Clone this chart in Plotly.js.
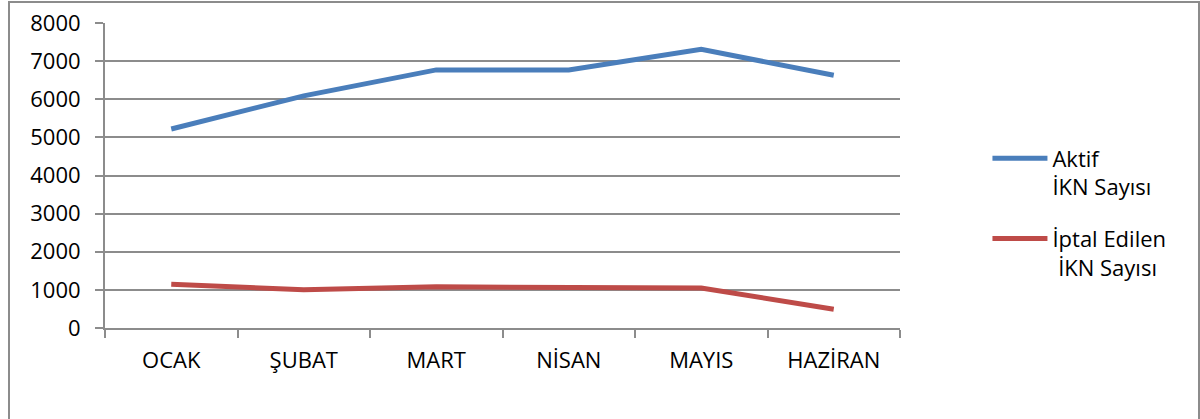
<!DOCTYPE html>
<html>
<head>
<meta charset="utf-8">
<script src="https://cdn.plot.ly/plotly-3.0.1.min.js"></script>
<style>
  html, body { margin: 0; padding: 0; background: #fff; overflow: hidden; }
  #chart { width: 1200px; height: 419px; position: absolute; left: 0; top: 0; }
  #frame { position: absolute; left: 8px; top: 1px; width: 1188px; height: 500px;
           border: 2px solid #8c8c8c; pointer-events: none; z-index: 5; }
</style>
</head>
<body>
<div id="chart"></div>
<div id="frame"></div>
<script>
const months = ["OCAK", "ŞUBAT", "MART", "NİSAN", "MAYIS", "HAZİRAN"];
const aktifIKN = [5220, 6090, 6770, 6770, 7310, 6630];
const iptalIKN = [1145, 1005, 1080, 1050, 1050, 490];
const seriesNames = ["Aktif<br>İKN Sayısı", "İptal Edilen<br>\u00a0İKN Sayısı"];
const yTicks = [0, 1000, 2000, 3000, 4000, 5000, 6000, 7000, 8000];

const font = "Open Sans, Noto Sans, sans-serif";
const gridGray = "#8c8c8c";

const traces = [
  { x: months, y: aktifIKN, name: seriesNames[0], legendgroup: "aktif", type: "scatter", mode: "lines",
    line: { color: "#4A7EBB", width: 5 } },
  { x: months, y: iptalIKN, name: seriesNames[1], legendgroup: "iptal", type: "scatter", mode: "lines",
    line: { color: "#BE4B48", width: 5 } }
];

const layout = {
  width: 1200, height: 419,
  margin: { l: 105, r: 300, t: 23, b: 91 },
  paper_bgcolor: "rgba(0,0,0,0)",
  plot_bgcolor: "#fff",
  font: { family: font, size: 22, color: "#000" },
  showlegend: true,
  legend: { x: 1.11, xanchor: "left", y: 0.625, yanchor: "top",
            font: { family: font, size: 22, color: "#000" },
            valign: "top", tracegroupgap: 20, itemwidth: 55, bgcolor: "rgba(0,0,0,0)" },
  xaxis: { type: "category", showgrid: false, showline: true, linecolor: gridGray, linewidth: 2,
           ticks: "outside", tickson: "boundaries", ticklen: 8, tickcolor: gridGray, tickwidth: 2,
           ticklabelstandoff: 12, tickfont: { family: font, size: 22, color: "#000" },
           range: [-0.5, 5.5], zeroline: false },
  yaxis: { range: [0, 8000], tickvals: yTicks, ticktext: yTicks.map(String),
           showgrid: true, gridcolor: gridGray, gridwidth: 2,
           showline: true, linecolor: gridGray, linewidth: 2,
           ticks: "outside", ticklen: 8, tickcolor: gridGray, tickwidth: 2,
           ticklabelstandoff: 10, tickfont: { family: font, size: 22, color: "#000" },
           zeroline: false }
};

Plotly.newPlot("chart", traces, layout, { staticPlot: true, displayModeBar: false });
</script>
</body>
</html>
